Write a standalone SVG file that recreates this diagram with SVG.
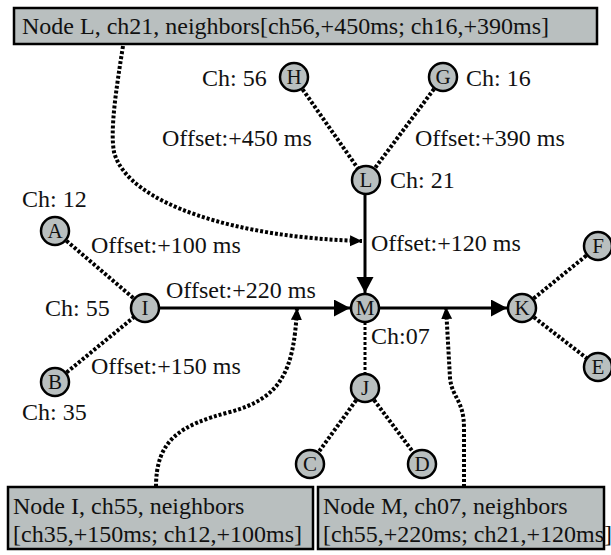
<svg xmlns="http://www.w3.org/2000/svg" width="611" height="555" viewBox="0 0 611 555">
<defs>
<style>
.n circle{fill:#b9bfbf;stroke:#000;stroke-width:2.5}
.n text{font-family:"Liberation Serif","Times New Roman",serif;font-size:21px;text-anchor:middle;fill:#111}
.t{font-family:"Liberation Serif","Times New Roman",serif;font-size:24px;fill:#111}
.box rect{fill:#b9bfbf;stroke:#000;stroke-width:2.5}
.dot{fill:none;stroke:#000;stroke-width:4;stroke-dasharray:3 2}
.sol{fill:none;stroke:#000;stroke-width:3}
</style>
<marker id="big" markerUnits="userSpaceOnUse" markerWidth="17" markerHeight="18" refX="16" refY="8.5" orient="auto"><path d="M0,0 L16,8.5 L0,17 z" fill="#000"/></marker>
<marker id="sm" markerUnits="userSpaceOnUse" markerWidth="13" markerHeight="12" refX="12" refY="5.5" orient="auto"><path d="M0,0 L12,5.5 L0,11 z" fill="#000"/></marker>
</defs>
<rect width="611" height="555" fill="#fff"/>
<g id="connectors">
<line class="dot" x1="294" y1="77" x2="366" y2="180"/>
<line class="dot" x1="443" y1="77" x2="366" y2="180"/>
<line class="dot" x1="55" y1="231" x2="145" y2="308"/>
<line class="dot" x1="55" y1="382" x2="145" y2="308"/>
<line class="dot" x1="522" y1="308" x2="598" y2="246"/>
<line class="dot" x1="522" y1="308" x2="598" y2="367"/>
<line class="dot" x1="365" y1="322" x2="365" y2="375" style="stroke-width:3"/>
<line class="dot" x1="365" y1="388" x2="310" y2="464"/>
<line class="dot" x1="365" y1="388" x2="422" y2="464"/>
<line class="sol" x1="365" y1="194" x2="365" y2="293" marker-end="url(#big)"/>
<line class="sol" x1="160" y1="308" x2="350" y2="308" marker-end="url(#big)"/>
<line class="sol" x1="380" y1="308" x2="507" y2="308" marker-end="url(#big)"/>
<path class="dot" d="M123,46 C116,90 110,130 114,152 C128,205 240,238 362,241" marker-end="url(#sm)"/>
<path class="dot" d="M156,487 C156,440 180,425 230,412 C282,398 294,370 297,308" marker-end="url(#sm)"/>
<path class="dot" d="M464,487 L464,428 C464,400 452,398 450,378 L446,307" marker-end="url(#sm)"/>
</g>
<g id="box-L" class="box"><rect x="14" y="8" width="583" height="36"/><text class="t" x="22" y="34">Node L, ch21, neighbors[ch56,+450ms; ch16,+390ms]</text></g>
<g id="box-I" class="box"><rect x="8" y="487" width="305" height="62"/><text class="t" x="13" y="514">Node I, ch55, neighbors</text><text class="t" x="13" y="542">[ch35,+150ms; ch12,+100ms]</text></g>
<g id="box-M" class="box"><rect x="318" y="487" width="286" height="62"/><text class="t" x="323" y="514">Node M, ch07, neighbors</text><text class="t" x="323" y="542">[ch55,+220ms; ch21,+120ms]</text></g>
<g id="node-H" class="n"><circle cx="294" cy="77" r="14"/><text x="294" y="84">H</text></g>
<g id="node-G" class="n"><circle cx="443" cy="77" r="14"/><text x="443" y="84">G</text></g>
<g id="node-L" class="n"><circle cx="366" cy="180" r="14"/><text x="366" y="187">L</text></g>
<g id="node-A" class="n"><circle cx="55" cy="231" r="14"/><text x="55" y="238">A</text></g>
<g id="node-I" class="n"><circle cx="145" cy="308" r="14"/><text x="145" y="315">I</text></g>
<g id="node-B" class="n"><circle cx="55" cy="382" r="14"/><text x="55" y="389">B</text></g>
<g id="node-M" class="n"><circle cx="365" cy="308" r="14"/><text x="365" y="315">M</text></g>
<g id="node-K" class="n"><circle cx="522" cy="308" r="14"/><text x="522" y="315">K</text></g>
<g id="node-F" class="n"><circle cx="598" cy="246" r="14"/><text x="598" y="253">F</text></g>
<g id="node-E" class="n"><circle cx="598" cy="367" r="14"/><text x="598" y="374">E</text></g>
<g id="node-J" class="n"><circle cx="365" cy="388" r="14"/><text x="365" y="395">J</text></g>
<g id="node-C" class="n"><circle cx="310" cy="464" r="14"/><text x="310" y="471">C</text></g>
<g id="node-D" class="n"><circle cx="422" cy="464" r="14"/><text x="422" y="471">D</text></g>
<g id="labels">
<text class="t" x="202" y="86">Ch: 56</text>
<text class="t" x="466" y="86">Ch: 16</text>
<text class="t" x="162" y="146">Offset:+450 ms</text>
<text class="t" x="415" y="146">Offset:+390 ms</text>
<text class="t" x="390" y="188">Ch: 21</text>
<text class="t" x="22" y="207">Ch: 12</text>
<text class="t" x="91" y="253">Offset:+100 ms</text>
<text class="t" x="371" y="251">Offset:+120 ms</text>
<text class="t" x="166" y="298">Offset:+220 ms</text>
<text class="t" x="45" y="316">Ch: 55</text>
<text class="t" x="371" y="344">Ch:07</text>
<text class="t" x="91" y="374">Offset:+150 ms</text>
<text class="t" x="22" y="420">Ch: 35</text>
</g>
</svg>
